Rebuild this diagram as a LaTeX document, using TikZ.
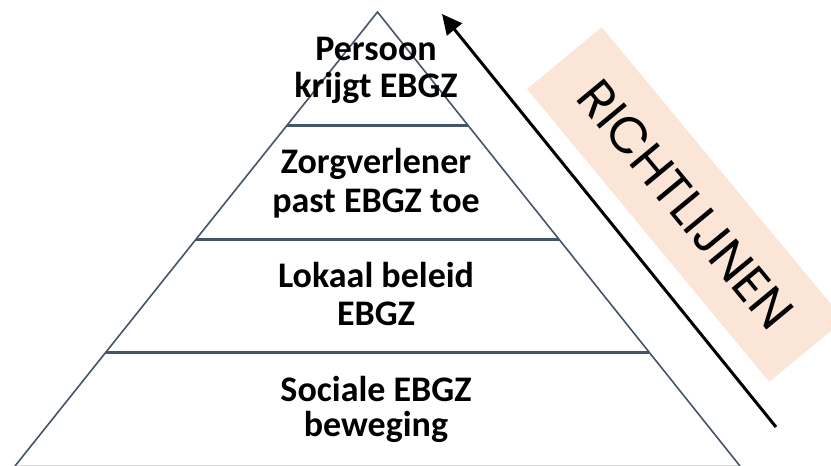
\documentclass[tikz,border=0pt]{standalone}
\usepackage{fontspec}
\setmainfont{Carlito}
\newfontfamily\geofont{Poppins}
\usetikzlibrary{arrows.meta,calc}
\definecolor{slate}{HTML}{44546A}
\definecolor{pinkbg}{HTML}{FBE5D6}
\definecolor{basegray}{HTML}{D9D9D9}
\tikzset{
  side/.style={draw=slate, line width=1.6pt},
  tier/.style={draw=slate, line width=3pt},
  lbl/.style={font=\bfseries\fontsize{36}{40}\selectfont, anchor=base, inner sep=0pt},
  banner/.style={fill=pinkbg, rotate=-50.4, minimum width=380pt, minimum height=97pt, inner sep=0pt,
    font=\geofont\fontsize{51}{56}\selectfont},
  trend/.style={line width=3pt, -{Triangle[length=20pt,width=19pt]}}
}
\begin{document}
\begin{tikzpicture}[x=1pt,y=-1pt]
\useasboundingbox (0,0) rectangle (831,466);
\clip (0,0) rectangle (831,466);
% pink banner
\node[banner] (rl) at (685.5,204.5) {RICHTLIJNEN};
% pyramid
\coordinate (apex) at (377.5,12);
\coordinate (bl) at (15,466);
\coordinate (br) at (740,466);
\draw[basegray, line width=1.5pt] (bl) -- (br);
\draw[side] (bl) -- (apex) -- (br);
\foreach \i in {1,2,3}{
  \draw[tier] ($(apex)!\i/4!(bl)$) -- ($(apex)!\i/4!(br)$);
}
% labels
\node[lbl] (t1a) at (376,60) {Persoon};
\node[lbl] (t1b) at (376,97) {krijgt EBGZ};
\node[lbl] (t2a) at (376,173) {Zorgverlener};
\node[lbl] (t2b) at (376,212) {past EBGZ toe};
\node[lbl] (t3a) at (376,287) {Lokaal beleid};
\node[lbl] (t3b) at (376,325) {EBGZ};
\node[lbl] (t4a) at (376,401) {Sociale EBGZ};
\node[lbl] (t4b) at (376,436) {beweging};
% arrow
\coordinate (arrS) at (776,427);
\coordinate (arrE) at (442,14);
\draw[trend] (arrS) -- (arrE);
\end{tikzpicture}
\end{document}
